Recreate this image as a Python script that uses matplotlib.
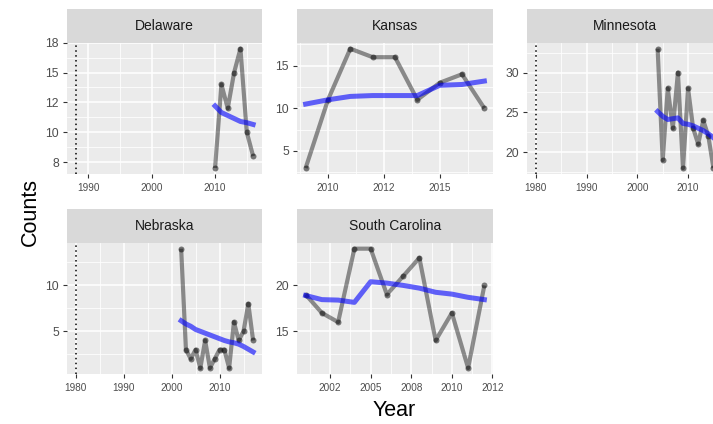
import matplotlib
matplotlib.use("Agg")
import matplotlib.pyplot as plt
from matplotlib.ticker import FixedLocator

plt.rcParams['font.family'] = ['Liberation Sans', 'DejaVu Sans']

# ---------------- data ----------------
states = ["Delaware", "Kansas", "Minnesota", "Nebraska", "South Carolina"]

de_years = [2010, 2011, 2012, 2013, 2014, 2015, 2016]
de_counts = [7, 14, 12, 15, 17, 10, 8]
de_smooth = [12.2, 11.65, 11.4, 11.15, 10.9, 10.8, 10.65]
de_vline = 1988

ks_years = [2009, 2010, 2011, 2012, 2013, 2014, 2015, 2016, 2017]
ks_counts = [3, 11, 17, 16, 16, 11, 13, 14, 10]
ks_smooth = [10.5, 11.0, 11.4, 11.5, 11.5, 11.5, 12.7, 12.8, 13.2]

mn_years = [2004, 2005, 2006, 2007, 2008, 2009, 2010, 2011, 2012, 2013, 2014, 2015]
mn_counts = [33, 19, 28, 23, 30, 18, 28, 23, 21, 24, 22, 18]
mn_smooth = [25.1, 24.5, 24.1, 24.2, 24.3, 23.6, 23.5, 23.3, 23.0, 22.7, 22.3, 21.8]
mn_vline = 1980

ne_years = list(range(2002, 2018))
ne_counts = [14, 3, 2, 3, 1, 4, 1, 2, 3, 3, 1, 6, 4, 5, 8, 4]
ne_smooth = [6.15, 5.8, 5.55, 5.2, 5.0, 4.8, 4.6, 4.4, 4.2, 4.0, 3.85, 3.75, 3.6, 3.35, 3.05, 2.75]
ne_vline = 1980

sc_years = list(range(2001, 2013))
sc_counts = [19, 17, 16, 24, 24, 19, 21, 23, 14, 17, 11, 20]
sc_smooth = [18.9, 18.45, 18.4, 18.15, 20.4, 20.25, 20.0, 19.7, 19.25, 19.05, 18.7, 18.45]

# tick positions and labels (labels rounded as in the original)
de_xticks, de_xlabels = [1990, 2000, 2010], ["1990", "2000", "2010"]
de_yticks, de_ylabels = [7.5, 10, 12.5, 15, 17.5], ["8", "10", "12", "15", "18"]
ks_xticks, ks_xlabels = [2010, 2012.5, 2015], ["2010", "2012", "2015"]
ks_yticks, ks_ylabels = [5, 10, 15], ["5", "10", "15"]
mn_xticks, mn_xlabels = [1980, 1990, 2000, 2010], ["1980", "1990", "2000", "2010"]
mn_yticks, mn_ylabels = [20, 25, 30], ["20", "25", "30"]
ne_xticks, ne_xlabels = [1980, 1990, 2000, 2010], ["1980", "1990", "2000", "2010"]
ne_yticks, ne_ylabels = [5, 10], ["5", "10"]
sc_xticks, sc_xlabels = [2002.5, 2005, 2007.5, 2010, 2012.5], ["2002", "2005", "2008", "2010", "2012"]
sc_yticks, sc_ylabels = [15, 20], ["15", "20"]

# ---------------- layout ----------------
W, H = 713, 424
fig = plt.figure(figsize=(W / 100, H / 100), dpi=100)

cols = [(66.7, 262.0), (296.7, 493.3), (527.0, 722.3)]
rows = [(9.3, 42.7, 174.0), (209.3, 242.7, 374.0)]


def rect(x0, x1, ytop, ybot):
    return [x0 / W, 1 - ybot / H, (x1 - x0) / W, (ybot - ytop) / H]


def expand(lo, hi, f=0.05):
    r = hi - lo
    return lo - r * f, hi + r * f


def panel(col, row, title, years, counts, smooth, xticks, xlabels, yticks, ylabels, vline=None):
    x0, x1 = cols[col]
    st, sb, pb = rows[row]
    sax = fig.add_axes(rect(x0, x1, st, sb))
    sax.set_facecolor("#D9D9D9")
    sax.set_xticks([]); sax.set_yticks([])
    for s in sax.spines.values():
        s.set_visible(False)
    sax.text(0.5, 0.5, title, ha="center", va="center", fontsize=10, color="#1A1A1A",
             transform=sax.transAxes)

    ax = fig.add_axes(rect(x0, x1, sb, pb))
    ax.set_facecolor("#EBEBEB")
    for s in ax.spines.values():
        s.set_visible(False)
    xlo = min(years) if vline is None else min(min(years), vline)
    ax.set_xlim(*expand(xlo, max(years)))
    ax.set_ylim(*expand(min(counts), max(counts)))

    ax.set_xticks(xticks)
    ax.set_xticklabels(xlabels)
    ax.set_yticks(yticks)
    ax.set_yticklabels(ylabels)
    # minor grid at midpoints
    def mids(t):
        step = t[1] - t[0]
        return [t[0] - step / 2] + [a + step / 2 for a in t]
    ax.xaxis.set_minor_locator(FixedLocator(mids(xticks)))
    ax.yaxis.set_minor_locator(FixedLocator(mids(yticks)))
    ax.grid(which="major", color="white", linewidth=1.1)
    ax.grid(which="minor", color="white", linewidth=0.55)
    ax.set_axisbelow(True)
    ax.tick_params(which="minor", length=0)
    ax.tick_params(which="major", length=3.0, width=0.8, color="#333333")
    ax.tick_params(axis="x", labelsize=7.2, labelcolor="#4D4D4D", pad=3.5)
    ax.tick_params(axis="y", labelsize=8.7, labelcolor="#4D4D4D", pad=2.5)

    if vline is not None:
        ax.axvline(vline, color="black", linestyle=(0, (1, 2.2)), linewidth=1.1)
    ax.plot(years, counts, color="black", alpha=0.42, linewidth=3.0, solid_capstyle="butt", zorder=3)
    ax.plot(years, counts, "o", color="black", alpha=0.5, markersize=4.3, markeredgewidth=0, zorder=4)
    ax.plot(years, smooth, color="#0000FF", alpha=0.6, linewidth=3.6, zorder=5)
    return ax


panel(0, 0, states[0], de_years, de_counts, de_smooth, de_xticks, de_xlabels, de_yticks, de_ylabels, de_vline)
panel(1, 0, states[1], ks_years, ks_counts, ks_smooth, ks_xticks, ks_xlabels, ks_yticks, ks_ylabels)
panel(2, 0, states[2], mn_years, mn_counts, mn_smooth, mn_xticks, mn_xlabels, mn_yticks, mn_ylabels, mn_vline)
panel(0, 1, states[3], ne_years, ne_counts, ne_smooth, ne_xticks, ne_xlabels, ne_yticks, ne_ylabels, ne_vline)
panel(1, 1, states[4], sc_years, sc_counts, sc_smooth, sc_xticks, sc_xlabels, sc_yticks, sc_ylabels)

fig.text(30 / W, 1 - 212 / H, "Counts", rotation=90, ha="center", va="center", fontsize=15.5, color="black")
fig.text(394 / W, 1 - 411 / H, "Year", ha="center", va="center", fontsize=15.5, color="black")

fig.savefig("out.png", dpi=100)
